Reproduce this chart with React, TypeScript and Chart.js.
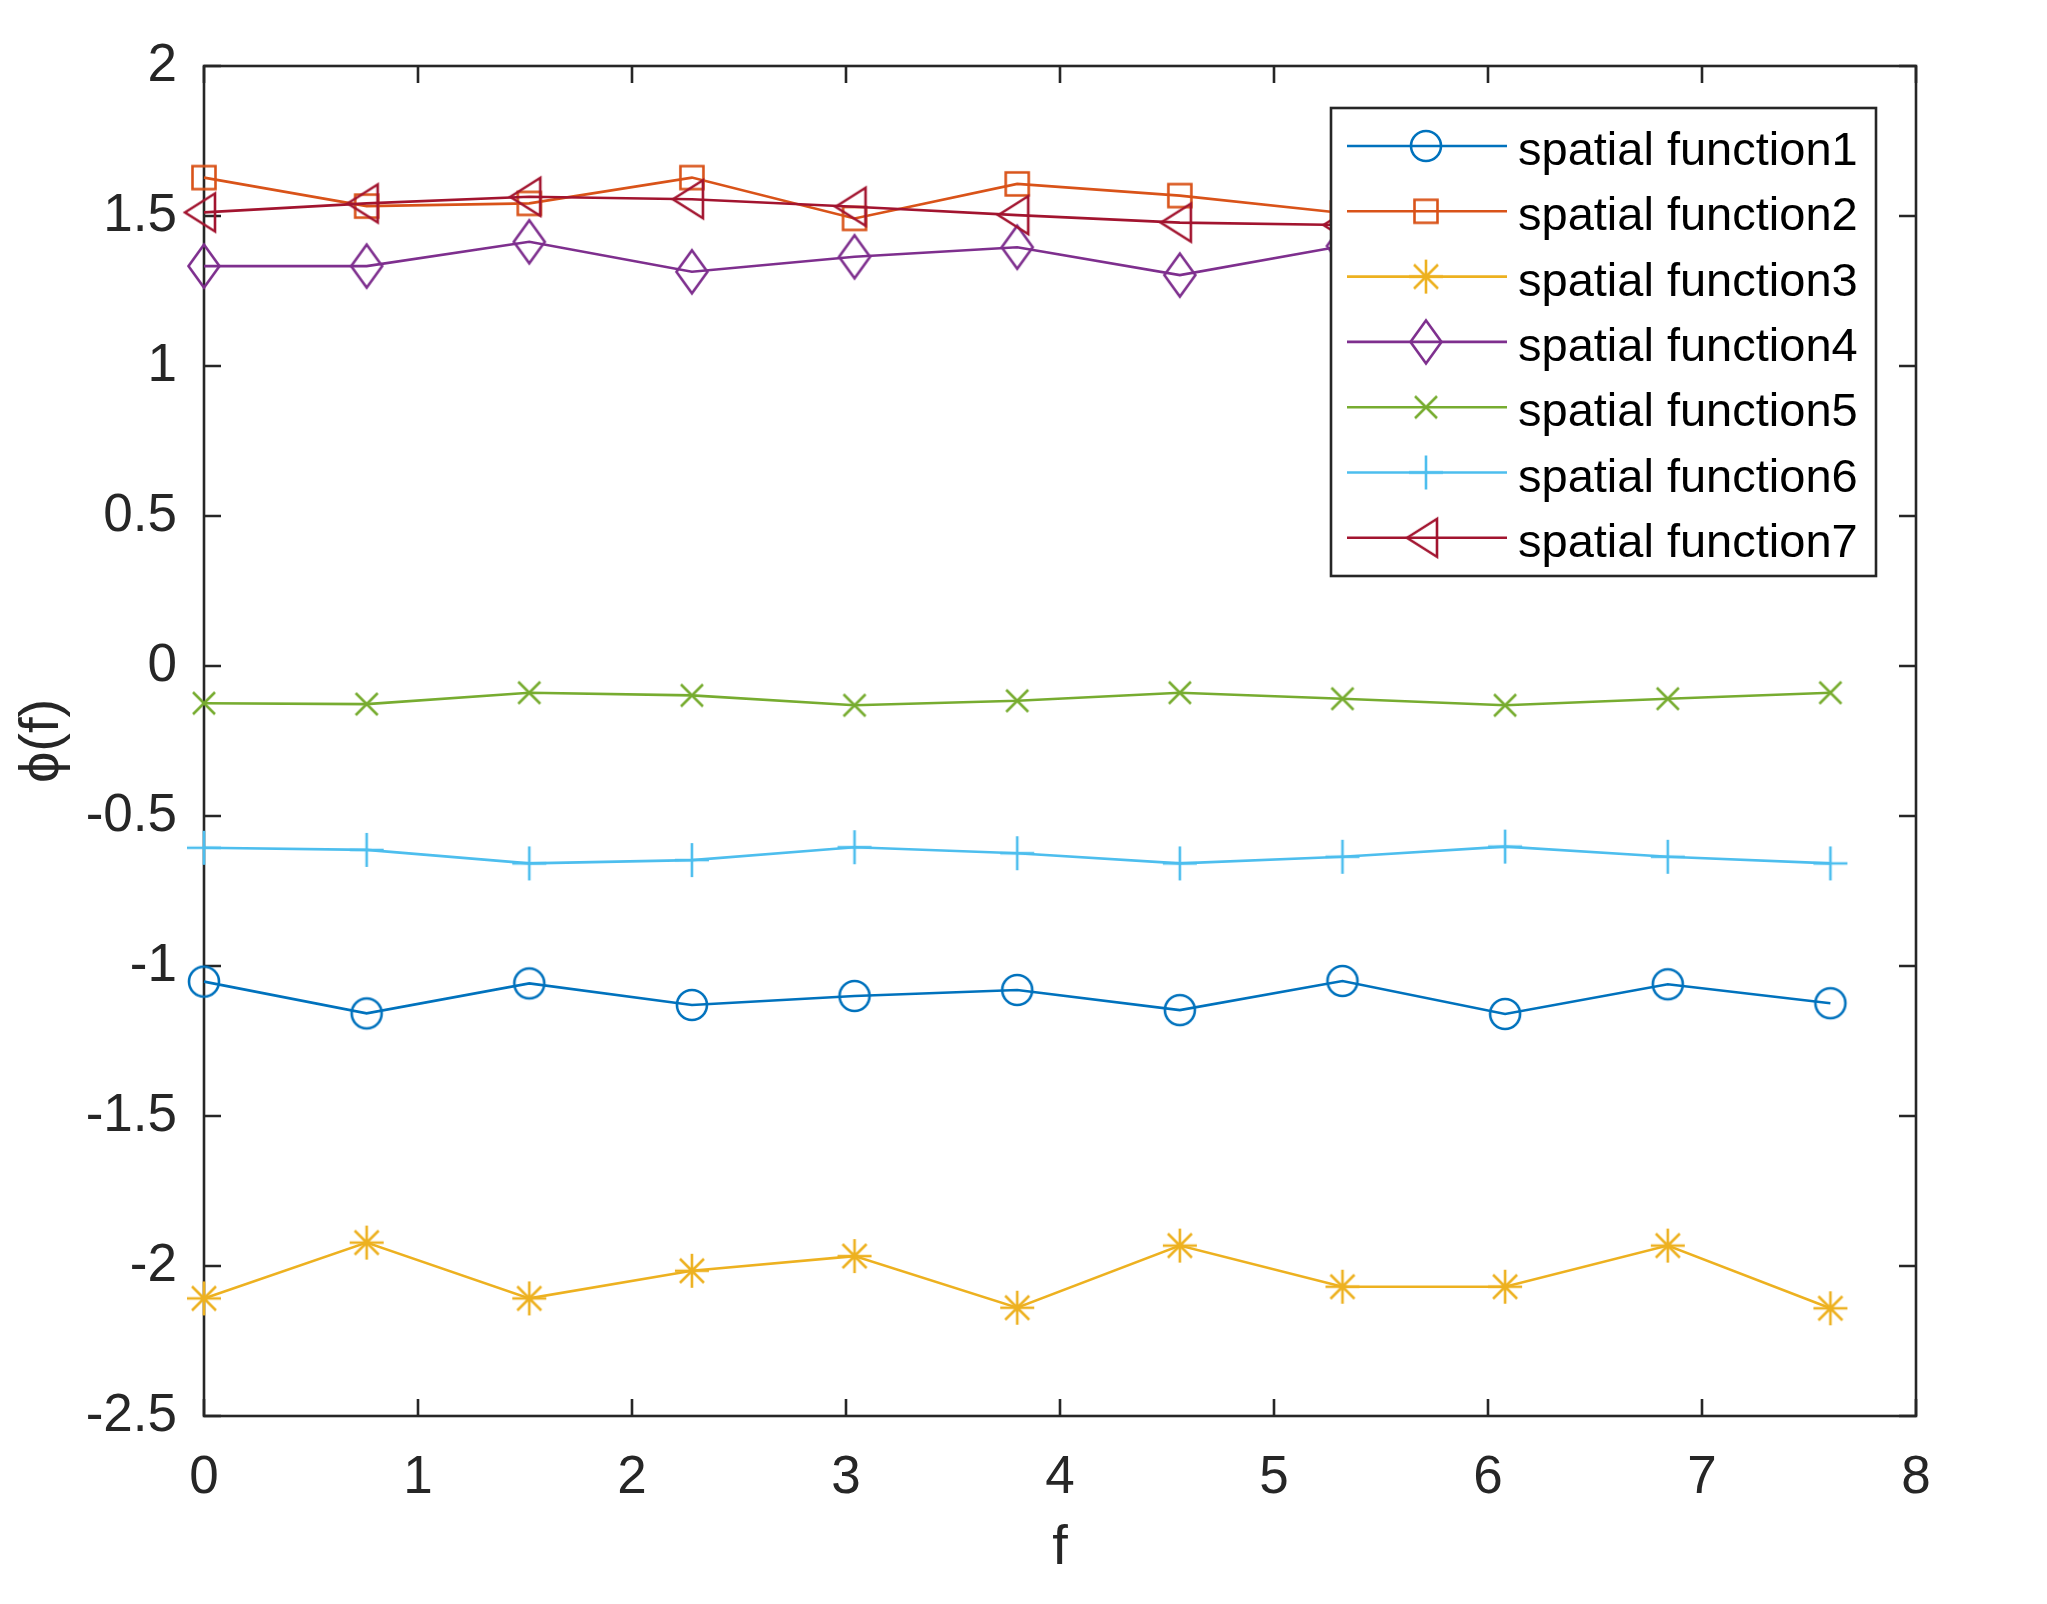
import React, { useEffect, useRef } from "react";
import { Chart, registerables } from "chart.js";

Chart.register(...registerables);

// ---- data ----
const fValues = [0, 0.76, 1.52, 2.28, 3.04, 3.8, 4.56, 5.32, 6.08, 6.84, 7.6];
const spatial1 = [-1.052, -1.158, -1.058, -1.13, -1.1, -1.08, -1.147, -1.05, -1.16, -1.061, -1.124];
const spatial2 = [1.628, 1.533, 1.542, 1.628, 1.492, 1.607, 1.568, 1.51, 1.55, 1.6, 1.53];
const spatial3 = [-2.108, -1.922, -2.108, -2.016, -1.967, -2.139, -1.932, -2.069, -2.069, -1.932, -2.141];
const spatial4 = [1.333, 1.333, 1.414, 1.314, 1.364, 1.396, 1.303, 1.4, 1.33, 1.38, 1.35];
const spatial5 = [-0.124, -0.127, -0.089, -0.098, -0.131, -0.116, -0.089, -0.109, -0.131, -0.109, -0.089];
const spatial6 = [-0.606, -0.613, -0.658, -0.647, -0.604, -0.624, -0.658, -0.636, -0.602, -0.636, -0.658];
const spatial7 = [1.512, 1.542, 1.564, 1.556, 1.531, 1.503, 1.478, 1.47, 1.5, 1.52, 1.49];

const seriesValues = [spatial1, spatial2, spatial3, spatial4, spatial5, spatial6, spatial7];
const seriesNames = [
  "spatial function1",
  "spatial function2",
  "spatial function3",
  "spatial function4",
  "spatial function5",
  "spatial function6",
  "spatial function7",
];
const seriesColors = ["#0072BD", "#D95319", "#EDB120", "#7E2F8E", "#77AC30", "#4DBEEE", "#A2142F"];
const markerKinds = ["circle", "square", "asterisk", "diamond", "x", "plus", "triangleLeft"];

const xMin = 0;
const xMax = 8;
const xStep = 1;
const yMin = -2.5;
const yMax = 2;
const yStep = 0.5;
const xAxisTitle = "f";
const yAxisTitle = "ϕ(f)";

// ---- style ----
const FONT = "'Liberation Sans', Arial, Helvetica, sans-serif";
const AXIS_COLOR = "#262626";
const LW = 2.6;
const TICK_LEN = 17;

function makeMarker(kind: string, color: string): HTMLCanvasElement {
  const S = 50;
  const c = document.createElement("canvas");
  c.width = S;
  c.height = S;
  const g = c.getContext("2d")!;
  g.strokeStyle = color;
  g.lineWidth = LW;
  g.translate(S / 2, S / 2);
  g.beginPath();
  switch (kind) {
    case "circle":
      g.arc(0, 0, 15, 0, Math.PI * 2);
      break;
    case "square":
      g.rect(-11.5, -11.5, 23, 23);
      break;
    case "asterisk":
      g.moveTo(0, -17);
      g.lineTo(0, 17);
      g.moveTo(-17, 0);
      g.lineTo(17, 0);
      g.moveTo(-12, -12);
      g.lineTo(12, 12);
      g.moveTo(-12, 12);
      g.lineTo(12, -12);
      break;
    case "diamond":
      g.moveTo(0, -21.5);
      g.lineTo(15.5, 0);
      g.lineTo(0, 21.5);
      g.lineTo(-15.5, 0);
      g.closePath();
      break;
    case "x":
      g.moveTo(-11, -11);
      g.lineTo(11, 11);
      g.moveTo(-11, 11);
      g.lineTo(11, -11);
      break;
    case "plus":
      g.moveTo(0, -17);
      g.lineTo(0, 17);
      g.moveTo(-17, 0);
      g.lineTo(17, 0);
      break;
    case "triangleLeft":
      g.moveTo(-19, 0);
      g.lineTo(11, -19);
      g.lineTo(11, 19);
      g.closePath();
      break;
  }
  g.stroke();
  return c;
}

export default function App() {
  const canvasRef = useRef<HTMLCanvasElement | null>(null);

  useEffect(() => {
    const canvas = canvasRef.current;
    if (!canvas) return;
    const markers = markerKinds.map((k, i) => makeMarker(k, seriesColors[i]));

    const datasets = seriesValues.map((vals, i) => ({
      label: seriesNames[i],
      data: fValues.map((f, j) => ({ x: f, y: vals[j] })),
      borderColor: seriesColors[i],
      backgroundColor: seriesColors[i],
      borderWidth: LW,
      pointStyle: markers[i] as any,
      pointRadius: 16,
      pointHoverRadius: 16,
      tension: 0,
      fill: false,
      clip: false as any,
      order: 6 - i,
    }));

    const framePlugin = {
      id: "frame",
      beforeDatasetsDraw(chart: any) {
        const { ctx, chartArea } = chart;
        const { left, right, top, bottom } = chartArea;
        ctx.save();
        ctx.strokeStyle = AXIS_COLOR;
        ctx.lineWidth = LW;
        ctx.beginPath();
        const xs = chart.scales.x;
        xs.ticks.forEach((t: any) => {
          const px = xs.getPixelForValue(t.value);
          ctx.moveTo(px, bottom);
          ctx.lineTo(px, bottom - TICK_LEN);
          ctx.moveTo(px, top);
          ctx.lineTo(px, top + TICK_LEN);
        });
        const ys = chart.scales.y;
        ys.ticks.forEach((t: any) => {
          const py = ys.getPixelForValue(t.value);
          ctx.moveTo(left, py);
          ctx.lineTo(left + TICK_LEN, py);
          ctx.moveTo(right, py);
          ctx.lineTo(right - TICK_LEN, py);
        });
        ctx.stroke();
        ctx.strokeRect(left, top, right - left, bottom - top);
        ctx.restore();
      },
    };

    const legendPlugin = {
      id: "matlabLegend",
      afterDraw(chart: any) {
        const { ctx, chartArea } = chart;
        const bx = chartArea.right - 585;
        const by = chartArea.top + 42;
        const bw = 545;
        const bh = 468;
        const rowStep = 65.3;
        ctx.save();
        ctx.fillStyle = "#ffffff";
        ctx.fillRect(bx, by, bw, bh);
        ctx.strokeStyle = AXIS_COLOR;
        ctx.lineWidth = LW;
        ctx.strokeRect(bx, by, bw, bh);
        seriesNames.forEach((name, i) => {
          const y = by + 38 + i * rowStep;
          ctx.strokeStyle = seriesColors[i];
          ctx.lineWidth = LW;
          ctx.beginPath();
          ctx.moveTo(bx + 16, y);
          ctx.lineTo(bx + 176, y);
          ctx.stroke();
          const m = markers[i];
          ctx.drawImage(m, bx + 95 - m.width / 2, y - m.height / 2);
          ctx.fillStyle = "#000000";
          ctx.font = `47px ${FONT}`;
          ctx.textAlign = "left";
          ctx.textBaseline = "alphabetic";
          ctx.fillText(name, bx + 187, y + 19);
        });
        ctx.restore();
      },
    };

    const chart = new Chart(canvas, {
      type: "line",
      data: { datasets: datasets as any },
      options: {
        animation: false,
        responsive: false,
        devicePixelRatio: 1,
        events: [],
        layout: { padding: { left: 0, top: 66, right: 131, bottom: 0 } },
        plugins: {
          legend: { display: false },
          tooltip: { enabled: false },
        },
        scales: {
          x: {
            type: "linear",
            min: xMin,
            max: xMax,
            afterFit(scale: any) {
              scale.height = 188;
            },
            ticks: {
              stepSize: xStep,
              autoSkip: false,
              maxRotation: 0,
              padding: 31,
              color: AXIS_COLOR,
              font: { family: FONT, size: 53 },
              callback: (v: any) => String(v),
            },
            grid: { display: false, drawTicks: false },
            border: { display: false },
            title: {
              display: true,
              text: xAxisTitle,
              color: AXIS_COLOR,
              font: { family: FONT, size: 56 },
              padding: { top: 0, bottom: 22 },
            },
          },
          y: {
            type: "linear",
            min: yMin,
            max: yMax,
            afterFit(scale: any) {
              scale.width = 204;
            },
            ticks: {
              stepSize: yStep,
              autoSkip: false,
              padding: 27,
              color: AXIS_COLOR,
              font: { family: FONT, size: 53 },
              callback: (v: any) => String(v),
            },
            grid: { display: false, drawTicks: false },
            border: { display: false },
            title: {
              display: true,
              text: yAxisTitle,
              color: AXIS_COLOR,
              font: { family: FONT, size: 56 },
              padding: { top: 9, bottom: 0 },
            },
          },
        },
      },
      plugins: [framePlugin, legendPlugin],
    });

    return () => {
      chart.destroy();
    };
  }, []);

  return (
    <div style={{ position: "absolute", left: 0, top: 0, width: 2047, height: 1604, background: "#ffffff" }}>
      <canvas ref={canvasRef} width={2047} height={1604} style={{ display: "block", width: 2047, height: 1604 }} />
    </div>
  );
}
